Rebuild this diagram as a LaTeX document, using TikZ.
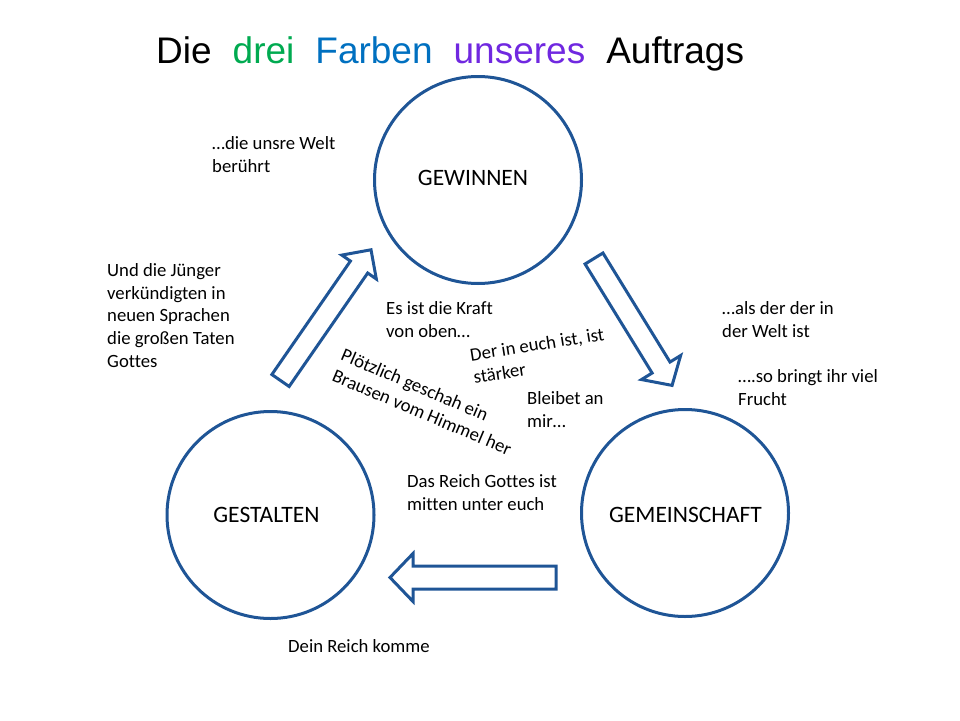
\documentclass[tikz,border=0pt]{standalone}
\usepackage{fontspec}
\setmainfont{Carlito}[Ligatures=NoCommon]
\newfontfamily\titlefont{Liberation Sans}
\definecolor{circblue}{RGB}{31,85,150}
\definecolor{tgreen}{RGB}{0,170,80}
\definecolor{tblue}{RGB}{0,112,192}
\definecolor{tpurple}{RGB}{112,40,224}
\newcommand\bodyfont{\fontsize{18.7}{22.6}\selectfont}
\newcommand\labfont{\fontsize{23.5}{28}\selectfont}
\newcommand\fatarrow[6]{%
  \begin{scope}[shift={#1},rotate=#2]
    \draw[arrowline] (0,-#4) -- ({#3-#6},-#4) -- ({#3-#6},-#5) -- (#3,0)
      -- ({#3-#6},#5) -- ({#3-#6},#4) -- (0,#4) -- cycle;
  \end{scope}}
\tikzset{
  circ/.style={circle, draw=circblue, line width=3pt, minimum size=207pt, inner sep=0pt},
  arrowline/.style={draw=circblue, line width=3pt, line join=miter},
  txt/.style={font=\bodyfont, align=left, anchor=north west, inner sep=0pt},
  lab/.style={font=\labfont, inner sep=0pt},
}
\begin{document}
\begin{tikzpicture}[x=1pt,y=-1pt]
\useasboundingbox (0,0) rectangle (960,720);
% title
\node[anchor=base west, inner sep=0pt, font=\titlefont\fontsize{37}{42}\selectfont] (title) at (156,63)
  {Die\hspace{21pt}\textcolor{tgreen}{drei}\hspace{21pt}\textcolor{tblue}{Farben}\hspace{21pt}\textcolor{tpurple}{unseres}\hspace{21pt}Auftrags};
% circles
\node[circ] (gew) at (478,180) {};
\node[circ] (ges) at (270.5,515) {};
\node[circ] (gem) at (685,513) {};
\node[lab] (gewl) at (473,177.5) {GEWINNEN};
\node[lab] (gesl) at (266.5,515) {GESTALTEN};
\node[lab] (geml) at (685.5,515) {GEMEINSCHAFT};
% block arrows
\fatarrow{(280.5,380.5)}{55.3}{159}{10.5}{21}{21}
\fatarrow{(594,258.5)}{-58.4}{149}{10.5}{23}{21}
\fatarrow{(556,577.5)}{180}{166}{11.5}{24}{23}
% texts
\node[txt] (t1) at (212,133.7) {\strut…die unsre Welt\\berührt};
\node[txt] (t2) at (107,260.7) {\strut Und die Jünger\\verkündigten in\\neuen Sprachen\\die großen Taten\\Gottes};
\node[txt] (t3) at (386,298.7) {\strut Es ist die Kraft\\von oben…};
\node[txt, rotate=9] (t4) at (468.5,345.4) {\strut Der in euch ist, ist\\stärker};
\node[txt, rotate=-23] (t5) at (346,345) {\strut Plötzlich geschah ein\\Brausen vom Himmel her};
\node[txt] (t6) at (527,388.7) {\strut Bleibet an\\mir…};
\node[txt] (t7) at (722,298.7) {\strut …als der der in\\der Welt ist};
\node[txt] (t8) at (738,366.7) {\strut ….so bringt ihr viel\\Frucht};
\node[txt] (t9) at (407,471.7) {\strut Das Reich Gottes ist\\mitten unter euch};
\node[txt] (t10) at (288,636.7) {\strut Dein Reich komme};
\end{tikzpicture}
\end{document}
